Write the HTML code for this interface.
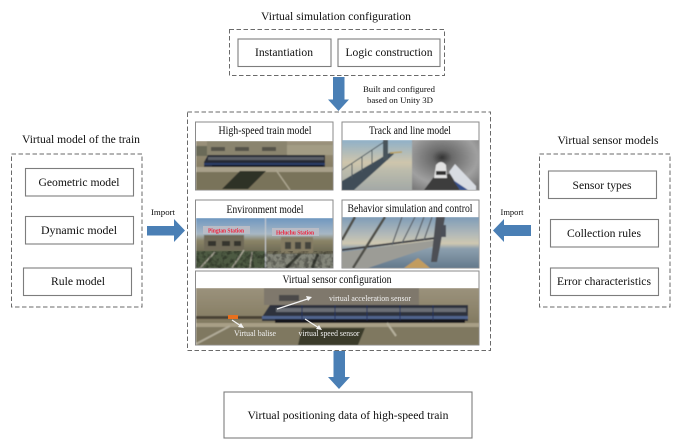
<!DOCTYPE html>
<html>
<head>
<meta charset="utf-8">
<style>
html,body{margin:0;padding:0;background:#fff;width:679px;height:444px;overflow:hidden}
svg{display:block}
text{font-family:"Liberation Serif",serif;fill:#111;text-anchor:middle;font-size:11.5px}
.dash{fill:none;stroke:#6a6a6a;stroke-width:1;stroke-dasharray:4.5 2.5}
.box{fill:#fff;stroke:#7d7d7d;stroke-width:1.1}
.panel{fill:#fff;stroke:#8a8a8a;stroke-width:1}
.arrow{fill:#4a7fb5}
.w{fill:#f2f2f2;font-size:8px}
.r{fill:#f0203a;font-size:6.5px;font-weight:bold}
</style>
</head>
<body>
<svg width="679" height="444" viewBox="0 0 679 444" xmlns="http://www.w3.org/2000/svg">
<defs>
<linearGradient id="sky1" x1="0" y1="0" x2="0" y2="1"><stop offset="0" stop-color="#8fb0c8"/><stop offset=".45" stop-color="#cfc6ac"/><stop offset=".6" stop-color="#bdbcac"/><stop offset="1" stop-color="#a3a9a6"/></linearGradient>
<radialGradient id="tun" cx=".45" cy=".35" r=".75"><stop offset="0" stop-color="#333"/><stop offset=".2" stop-color="#6a6a6a"/><stop offset=".7" stop-color="#a0a0a0"/><stop offset="1" stop-color="#7a7a7a"/></radialGradient>
<linearGradient id="sky2" x1="0" y1="0" x2="0" y2="1"><stop offset="0" stop-color="#7f9db8"/><stop offset=".35" stop-color="#b4bab8"/><stop offset=".52" stop-color="#cfc8b0"/><stop offset=".62" stop-color="#8c9fae"/><stop offset="1" stop-color="#64798c"/></linearGradient>
<linearGradient id="skyE" x1="0" y1="0" x2="0" y2="1"><stop offset="0" stop-color="#6f97c0"/><stop offset=".32" stop-color="#a8b8c4"/><stop offset=".45" stop-color="#8b8468"/><stop offset="1" stop-color="#45483a"/></linearGradient>
<linearGradient id="gr" x1="0" y1="0" x2="0" y2="1"><stop offset="0" stop-color="#9b927c"/><stop offset=".45" stop-color="#8a8168"/><stop offset="1" stop-color="#6f6a52"/></linearGradient>
<filter id="b" x="-5%" y="-5%" width="110%" height="110%"><feGaussianBlur stdDeviation="0.5"/></filter>
<filter id="t"><feGaussianBlur stdDeviation="0.2"/></filter>
<filter id="n" x="0" y="0" width="100%" height="100%"><feTurbulence type="fractalNoise" baseFrequency="0.22" numOctaves="2" seed="4"/><feColorMatrix type="matrix" values="0 0 0 0 0  0 0 0 0 0  0 0 0 0 0  3 0 0 0 -1.2"/></filter>
<clipPath id="c1"><rect x="196" y="141" width="137" height="49"/></clipPath>
<clipPath id="c2"><rect x="342" y="140" width="137" height="50"/></clipPath>
<clipPath id="c3"><rect x="196" y="218" width="137" height="50"/></clipPath>
<clipPath id="c4"><rect x="342" y="217" width="137" height="51"/></clipPath>
<clipPath id="c5"><rect x="196" y="288" width="283" height="57"/></clipPath>
</defs>

<rect class="dash" x="229.500" y="29.500" width="215" height="46"/>
<rect class="box" x="238" y="39" width="93" height="27.500"/>
<rect class="box" x="338" y="39" width="102" height="27.500"/>

<rect class="dash" x="11.500" y="154" width="130.500" height="153"/>
<rect class="box" x="25.500" y="168.500" width="108" height="27.500"/>
<rect class="box" x="25.500" y="216.500" width="108" height="27.500"/>
<rect class="box" x="23.500" y="268" width="108" height="27.500"/>

<rect class="dash" x="539.500" y="154" width="130.500" height="153"/>
<rect class="box" x="548.500" y="171" width="108" height="27.500"/>
<rect class="box" x="550.500" y="219.500" width="108" height="27.500"/>
<rect class="box" x="550.500" y="268" width="108" height="27.500"/>

<rect class="dash" x="187.500" y="112" width="303" height="238.500"/>
<rect class="panel" x="195.500" y="122" width="137.500" height="68"/>
<rect class="panel" x="342" y="122" width="137" height="68"/>
<rect class="panel" x="195.500" y="200" width="137.500" height="68"/>
<rect class="panel" x="342" y="200" width="137" height="68"/>
<rect class="panel" x="195.500" y="271" width="283.500" height="74"/>

<!-- image 1 -->
<g clip-path="url(#c1)"><g filter="url(#b)">
<rect x="196" y="141" width="137" height="49" fill="url(#gr)"/>
<rect x="196" y="146" width="12" height="10" fill="#6a6a58"/>
<rect x="287" y="145" width="46" height="10" fill="#a39c84"/>
<path d="M207 141H287V155H207Z" fill="#8a846e"/>
<rect x="211" y="147" width="14" height="4" fill="#55524a"/><rect x="235" y="147" width="14" height="4" fill="#55524a"/><rect x="262" y="147" width="14" height="4" fill="#55524a"/>
<path d="M204 162L208 155H325V167H204Z" fill="#272a36"/>
<rect x="208" y="157" width="116" height="3" fill="#5c6068"/>
<rect x="204" y="163" width="121" height="2" fill="#2a3c68"/>
<rect x="212" y="165" width="111" height="2" fill="#14151c"/>
<path d="M196 167H333V172H196Z" fill="#a8a08a"/>
<path d="M196 172H333V190H196Z" fill="#79735a"/>
<path d="M222 189L240 171H266L248 189Z" fill="#2f3026"/>
<path d="M276 170L290 190" stroke="#aca690" stroke-width="1.500"/>
</g></g>

<!-- image 2 -->
<g clip-path="url(#c2)"><g filter="url(#b)">
<rect x="342" y="140" width="70" height="50" fill="url(#sky1)"/>
<path d="M342 181L391 152L394 154L354 190H342Z" fill="#3f4d58"/>
<path d="M342 170L384 142" stroke="#4c5860" stroke-width="1"/>
<rect x="383" y="140" width="5" height="20" fill="#4a555c"/>
<path d="M352 164V178M362 157V172M372 150V165" stroke="#4c5860" stroke-width="1"/>
<path d="M390 153L402 152" stroke="#b9a060" stroke-width="1.500"/>
<rect x="412" y="140" width="67" height="50" fill="url(#tun)"/>
<path d="M424 190L436 174H462L474 190Z" fill="#3c3c3c"/>
<path d="M434 178L436 165Q441 159 446 165L447 178Z" fill="#e2e2e2"/>
<rect x="436" y="171" width="10" height="4" fill="#333"/>
<path d="M449 172L455 164L476 186V190H460Z" fill="#d8dce2"/>
<path d="M453 180L468 190H460Z" fill="#34508c"/>
</g></g>

<!-- image 3 -->
<g clip-path="url(#c3)"><g filter="url(#b)">
<rect x="196" y="218" width="69" height="50" fill="url(#skyE)"/>
<rect x="266" y="218" width="67" height="50" fill="url(#skyE)"/>
<rect x="265" y="218" width="1" height="50" fill="#c8ccd0"/>
<rect x="204" y="235" width="40" height="15" fill="#6f6a58"/>
<rect x="208" y="241" width="8" height="5" fill="#34352f"/><rect x="222" y="241" width="8" height="5" fill="#34352f"/><rect x="234" y="241" width="7" height="5" fill="#34352f"/>
<rect x="281" y="237" width="32" height="16" fill="#847c64"/>
<rect x="285" y="242" width="6" height="7" fill="#45453c"/><rect x="295" y="242" width="6" height="7" fill="#45453c"/><rect x="305" y="242" width="6" height="7" fill="#45453c"/>
<path d="M196 251H265V268H196Z" fill="#4d5a42"/>
<path d="M266 254H333V268H266Z" fill="#84867a"/>
<path d="M200 268L215 252M232 268L244 250M250 268L252 252" stroke="#a8a696" stroke-width="1.500"/>
<path d="M286 268L300 254M312 268L318 254" stroke="#3a3d34" stroke-width="3"/>
</g>
<rect x="196" y="251" width="137" height="17" filter="url(#n)" opacity=".3"/>
<rect x="203" y="226" width="47" height="8" fill="#b9bcc6"/>
<rect x="272" y="228" width="47" height="8" fill="#b9bcc6"/>
<text class="r" x="226" y="232.500" textLength="36" lengthAdjust="spacingAndGlyphs">Pingtan Station</text>
<text class="r" x="295" y="234.500" textLength="38" lengthAdjust="spacingAndGlyphs">Heluchu Station</text>
</g>

<!-- image 4 -->
<g clip-path="url(#c4)"><g filter="url(#b)">
<rect x="342" y="217" width="137" height="51" fill="url(#sky2)"/>
<path d="M342 252L436 240L440 244L368 268H342Z" fill="#9c9c96"/>
<path d="M342 250L436 238" stroke="#3f4044" stroke-width="2"/>
<path d="M342 240L355 217M353 268L385 217" stroke="#4f4f4a" stroke-width="2.500"/>
<path d="M392 245L402 217M402 243L415 217M415 241L424 217M424 240L432 217" stroke="#5a6068" stroke-width="1.200"/>
<path d="M431 262L436 217H445L440 247L437 262Z" fill="#4e5054"/>
<rect x="441" y="225" width="5" height="12" fill="#4c5058"/>
<path d="M404 268L418 258L430 268Z" fill="#c29c5e"/>
</g></g>

<!-- image 5 -->
<g clip-path="url(#c5)"><g filter="url(#b)">
<rect x="196" y="288" width="283" height="57" fill="url(#gr)"/>
<rect x="264" y="288" width="155" height="17" fill="#7f786c"/>
<rect x="279" y="295" width="20" height="6" fill="#4b4a4a"/>
<rect x="196" y="316" width="70" height="3" fill="#4a4236"/>
<path d="M262 317L270 305H468V321H262Z" fill="#2d303c"/>
<rect x="276" y="308" width="190" height="4" fill="#6a6e74"/>
<rect x="262" y="316" width="206" height="3" fill="#50648c"/>
<rect x="275" y="319" width="190" height="4" fill="#16171e"/>
<path d="M302 305V320M335 305V320M367 305V320M400 305V320M433 305V320" stroke="#20305c" stroke-width="1"/>
<path d="M196 323H479V327H196Z" fill="#a89f86"/>
<path d="M196 327H479V345H196Z" fill="#7f7860"/>
<path d="M298 345L302 328H365L358 345Z" fill="#3a3b2c"/>
<path d="M196 344L230 326" stroke="#b0aa98" stroke-width="2"/>
<path d="M387 323L396 336" stroke="#b6b09c" stroke-width="2"/>
</g>
<rect x="228" y="315" width="10" height="4" fill="#e8701e"/>
<path d="M232 320L241 326M277 309L309 298.500M305 319L319 328" stroke="#f4f4f4" stroke-width="1.200"/>
<path d="M312 297L306 296L308 301ZM244 328L238 327L241 323ZM322 330L316 329L319 325Z" fill="#f4f4f4"/>
<text class="w" x="370" y="301" textLength="82" lengthAdjust="spacingAndGlyphs">virtual acceleration sensor</text>
<text class="w" x="255" y="336" textLength="42" lengthAdjust="spacingAndGlyphs">Virtual balise</text>
<text class="w" x="329" y="336" textLength="61" lengthAdjust="spacingAndGlyphs">virtual speed sensor</text>
</g>

<path class="arrow" d="M333 77H344.500V99.500H349L338.500 111L328 99.500H333Z"/>
<path class="arrow" d="M333.500 351H345V377H350L339 389L328 377H333.500Z"/>
<path class="arrow" d="M147 226H174V219L185 230.500L174 242V235.500H147Z"/>
<path class="arrow" d="M531 225H504V219L493 230.500L504 242V236H531Z"/>

<g filter="url(#t)">
<text x="336" y="20" textLength="150" lengthAdjust="spacingAndGlyphs">Virtual simulation configuration</text>
<text x="284" y="56" textLength="58" lengthAdjust="spacingAndGlyphs">Instantiation</text>
<text x="389" y="56" textLength="87" lengthAdjust="spacingAndGlyphs">Logic construction</text>
<text x="399" y="92" style="font-size:8.500px" textLength="72" lengthAdjust="spacingAndGlyphs">Built and configured</text>
<text x="400" y="103" style="font-size:8.500px" textLength="66" lengthAdjust="spacingAndGlyphs">based on Unity 3D</text>
<text x="265" y="134" textLength="93" lengthAdjust="spacingAndGlyphs">High-speed train model</text>
<text x="410" y="134" textLength="82" lengthAdjust="spacingAndGlyphs">Track and line model</text>
<text x="265" y="213" textLength="77" lengthAdjust="spacingAndGlyphs">Environment model</text>
<text x="410" y="212" textLength="125" lengthAdjust="spacingAndGlyphs">Behavior simulation and control</text>
<text x="337" y="283" textLength="109" lengthAdjust="spacingAndGlyphs">Virtual sensor configuration</text>
<text x="81" y="143" textLength="118" lengthAdjust="spacingAndGlyphs">Virtual model of the train</text>
<text x="79" y="186" textLength="81" lengthAdjust="spacingAndGlyphs">Geometric model</text>
<text x="79" y="234" textLength="76" lengthAdjust="spacingAndGlyphs">Dynamic model</text>
<text x="78" y="285" textLength="54" lengthAdjust="spacingAndGlyphs">Rule model</text>
<text x="163" y="215" style="font-size:8.500px" textLength="24" lengthAdjust="spacingAndGlyphs">Import</text>
<text x="608" y="144" textLength="101" lengthAdjust="spacingAndGlyphs">Virtual sensor models</text>
<text x="602" y="189" textLength="59" lengthAdjust="spacingAndGlyphs">Sensor types</text>
<text x="604" y="237" textLength="74" lengthAdjust="spacingAndGlyphs">Collection rules</text>
<text x="604" y="285" textLength="94" lengthAdjust="spacingAndGlyphs">Error characteristics</text>
<text x="512" y="215" style="font-size:8.500px" textLength="23" lengthAdjust="spacingAndGlyphs">Import</text>
<text x="348" y="419" textLength="201" lengthAdjust="spacingAndGlyphs">Virtual positioning data of high-speed train</text>
</g>
<rect class="box" x="224" y="392" width="248" height="46" style="fill:none"/>
</svg>
</body>
</html>
